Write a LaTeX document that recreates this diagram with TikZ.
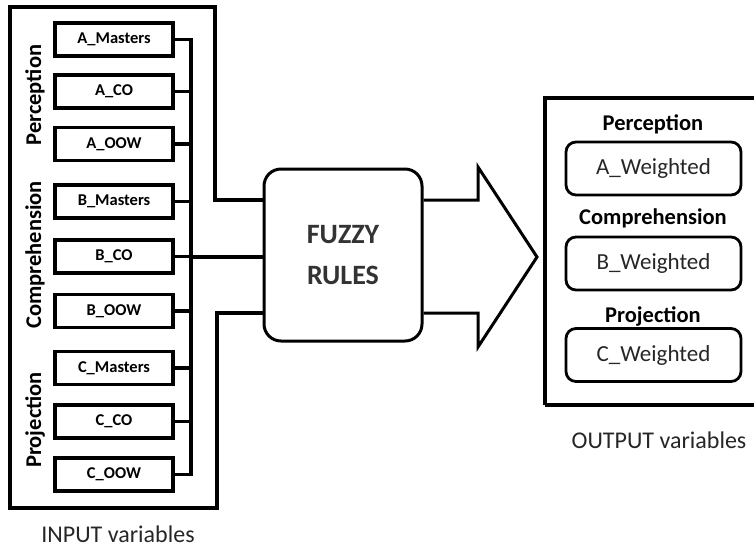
\documentclass[tikz,border=0pt]{standalone}
\usepackage{fontspec}
\setmainfont{Carlito}
\usetikzlibrary{positioning}

\begin{document}
\begin{tikzpicture}[x=1pt,y=-1pt,line join=miter]
    \tikzstyle{invar}=[draw,line width=3.8pt,minimum width=118,minimum height=33,inner sep=0pt,font=\fontsize{16.5}{18}\selectfont\bfseries]
    \tikzstyle{outvar}=[draw,line width=2.8pt,rounded corners=10,minimum width=175,minimum height=53,inner sep=0pt,text=black!85,font=\fontsize{23}{26}\selectfont]
    \tikzstyle{group}=[font=\fontsize{22.5}{24}\selectfont\bfseries,inner sep=0pt]
    \tikzstyle{caption}=[text=black!85,font=\fontsize{24}{26}\selectfont]

    \useasboundingbox (0,0) rectangle (754,547);

    % input variables
    \node[invar](am) at (114,39.5){A\_Masters};
    \node[invar](aco) at (114,91.5){A\_CO};
    \node[invar](aoow) at (114,144){A\_OOW};
    \node[invar](bm) at (114,201.5){B\_Masters};
    \node[invar](bco) at (114,256.5){B\_CO};
    \node[invar](boow) at (114,311){B\_OOW};
    \node[invar](cm) at (114,368){C\_Masters};
    \node[invar](cco) at (114,421.5){C\_CO};
    \node[invar](coow) at (114,474.5){C\_OOW};

    \node[group,rotate=90](perc) at (35,95){Perception};
    \node[group,rotate=90](comp) at (35,255){Comprehension};
    \node[group,rotate=90](proj) at (35,420){Projection};

    % fuzzy inference block
    \node[draw,line width=3pt,rounded corners=17,minimum width=158,minimum height=172,
          align=center,text=black!80,font=\fontsize{28}{41}\selectfont\bfseries](rules) at (343,255){FUZZY\\RULES};

    % bus joining the inputs
    \coordinate (bustop) at (191,39.5);
    \coordinate (busbot) at (191,474.5);
    \draw[line width=3.2pt] (am.east) -- (bustop) -- (busbot) -- (coow.east);
    \draw[line width=3.2pt] (aco.east) -- (aco.east -| bustop);
    \draw[line width=3.2pt] (aoow.east) -- (aoow.east -| bustop);
    \draw[line width=3.2pt] (bm.east) -- (bm.east -| bustop);
    \draw[line width=3.2pt] (bco.east) -- (bco.east -| bustop);
    \draw[line width=3.2pt] (boow.east) -- (boow.east -| bustop);
    \draw[line width=3.2pt] (cm.east) -- (cm.east -| bustop);
    \draw[line width=3.2pt] (cco.east) -- (cco.east -| bustop);
    \draw[line width=3.2pt] (bustop |- 0,257) -- (rules.west |- 0,257);

    % input frame running into the rules block
    \draw[line width=3.6pt] (rules.west |- 0,200) -- (215,200) -- (215,7) -- (10,7)
        -- (10,508) -- (217,508) -- (217,313) -- (rules.west |- 0,313);
    \node[caption](inlab) at (118,534){INPUT variables};

    % output arrow
    \draw[line width=3pt] (rules.east |- 0,200) -- (478,200) -- (478,167) -- (537,257)
        -- (478,347) -- (478,313) -- (rules.east |- 0,313);

    % output variables
    \draw[line width=3.4pt] (545,405) -- (545,98) -- (760,98);
    \draw[line width=3.4pt] (545,405) -- (760,405);
    \node[group](operc) at (653,124){Perception};
    \node[outvar](aw) at (653.5,168.5){A\_Weighted};
    \node[group](ocomp) at (653,218){Comprehension};
    \node[outvar](bw) at (653.5,263.5){B\_Weighted};
    \node[group](oproj) at (653,316){Projection};
    \node[outvar](cw) at (653.5,355){C\_Weighted};
    \node[caption](outlab) at (659,440){OUTPUT variables};
  \end{tikzpicture}
\end{document}
